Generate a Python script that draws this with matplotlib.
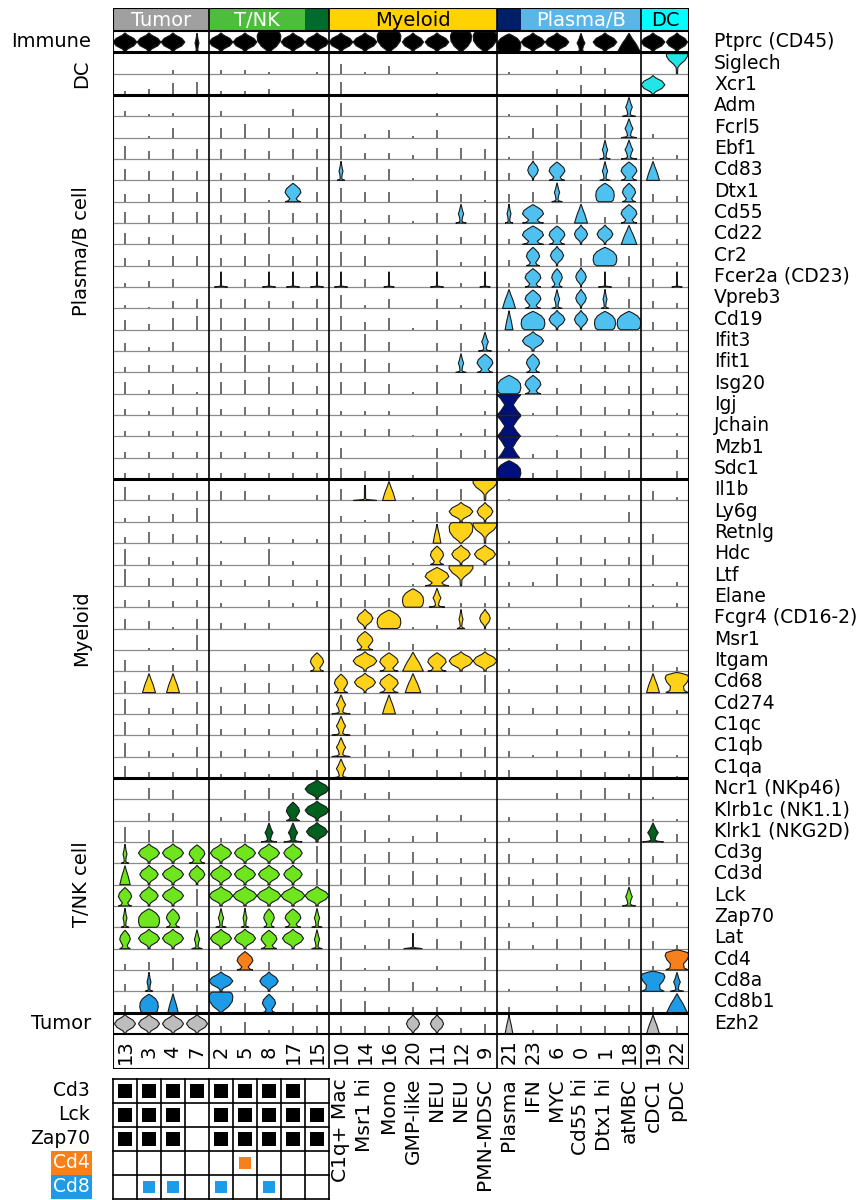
import numpy as np
import matplotlib.pyplot as plt
from matplotlib.patches import Rectangle, Polygon

plt.rcParams['font.family'] = ['DejaVu Sans']

# --- data ---
clusters = ['13', '3', '4', '7', '2', '5', '8', '17', '15', '10', '14', '16',
            '20', '11', '12', '9', '21', '23', '6', '0', '1', '18', '19', '22']
cell_types = [''] * 9 + ['C1q+ Mac', 'Msr1 hi', 'Mono', 'GMP-like', 'NEU', 'NEU',
                         'PMN-MDSC', 'Plasma', 'IFN', 'MYC', 'Cd55 hi', 'Dtx1 hi',
                         'atMBC', 'cDC1', 'pDC']

genes = ['Ptprc (CD45)', 'Siglech', 'Xcr1', 'Adm', 'Fcrl5', 'Ebf1', 'Cd83', 'Dtx1',
         'Cd55', 'Cd22', 'Cr2', 'Fcer2a (CD23)', 'Vpreb3', 'Cd19', 'Ifit3', 'Ifit1',
         'Isg20', 'Igj', 'Jchain', 'Mzb1', 'Sdc1', 'Il1b', 'Ly6g', 'Retnlg', 'Hdc',
         'Ltf', 'Elane', 'Fcgr4 (CD16-2)', 'Msr1', 'Itgam', 'Cd68', 'Cd274', 'C1qc',
         'C1qb', 'C1qa', 'Ncr1 (NKp46)', 'Klrb1c (NK1.1)', 'Klrk1 (NKG2D)', 'Cd3g',
         'Cd3d', 'Lck', 'Zap70', 'Lat', 'Cd4', 'Cd8a', 'Cd8b1', 'Ezh2']

# colour of each gene row
gene_colors = (['black'] + ['#22E5E5'] * 2 + ['#4FC1F0'] * 14 + ['#00107A'] * 4
               + ['#FFD21A'] * 14 + ['#00601E'] * 3 + ['#6EE51C'] * 5
               + ['#F7801A'] + ['#1E9BE6'] * 2 + ['#BDBDBD'])

# per cell: '-' nothing, digit = tick height (tenths), letter+digit = violin shape + width
cells = [
    "D9 D9 D9 S3 | D9 D9 U9 D9 D9 | D9 D9 U9 D8 D9 U8 U9 | R9 D9 D9 S6 D9 A9 | D9 D8",
    "- - 2 - | 2 2 1 - 1 | 5 1 4 - 1 - - | 1 - 2 4 3 - | - T8",
    "2 3 6 7 | 2 2 3 - - | 7 - - - 1 - - | - - 3 5 3 - | D9 -",
    "3 1 2 - | 3 - - 4 - | 7 - - - 2 - - | 1 - 6 7 6 S5 | - -",
    "- 1 5 - | 5 7 5 5 5 | 7 2 4 1 4 - - | 1 5 7 9 7 S6 | 2 -",
    "7 4 5 5 | 5 5 4 5 5 | 7 3 3 2 6 6 5 | 1 4 9 9 S4 S6 | 1 2",
    "6 5 5 5 | 4 4 4 3 7 | S3 3 6 1 3 3 5 | 4 D4 P6 3 S4 P6 | A5 3",
    "4 4 7 5 | 7 7 1 P6 5 | 7 5 5 - 6 4 1 | 4 5 S4 9 R7 P5 | 4 3",
    "6 4 6 6 | 4 5 7 5 5 | 7 2 4 1 5 S4 5 | S3 P8 4 A5 3 P6 | 4 4",
    "6 4 5 - | 5 6 9 4 5 | 7 5 4 - 5 4 5 | 3 P8 P6 D5 D6 A6 | 4 3",
    "4 3 5 5 | 4 5 6 5 5 | 7 5 - - 8 2 5 | 3 P5 D5 4 R9 5 | 4 2",
    "2 3 4 - | L5 4 L5 L5 L5 | L5 4 L4 - L5 2 L4 | 2 P6 P4 D4 L5 5 | 4 L4",
    "2 1 4 5 | 5 5 4 4 5 | 7 2 5 - 5 2 5 | A5 P6 S4 D4 S3 5 | 4 3",
    "5 3 6 7 | 6 6 6 6 6 | 7 4 6 1 5 3 4 | A3 R9 D6 D5 R8 R9 | 4 4",
    "4 2 5 - | 7 8 5 6 6 | 5 9 5 - 4 4 S5 | 1 D8 5 5 5 5 | 2 5",
    "3 4 4 3 | 5 9 4 4 5 | 5 7 5 - 4 S4 P6 | - P5 4 4 4 4 | 3 4",
    "6 2 5 1 | 6 7 9 6 4 | 6 6 5 1 6 5 2 | R9 P6 3 5 4 4 | 3 4",
    "3 2 4 4 | 3 4 4 3 3 | 2 2 2 - 5 - 2 | H9 1 5 5 4 3 | 2 1",
    "3 3 3 3 | 3 3 3 3 3 | 3 4 4 1 4 2 4 | H9 - 1 4 3 2 | 2 2",
    "3 3 3 3 | 3 3 3 3 3 | 5 - - - 5 4 4 | H8 2 4 5 6 5 | - 4",
    "3 3 3 3 | 3 3 3 3 3 | 6 4 4 2 9 - - | R9 3 5 7 4 5 | - 4",
    "7 3 4 5 | 5 5 3 - 3 | 6 L9 A5 2 6 6 T9 | 1 - 3 4 3 3 | 5 2",
    "2 3 4 7 | - - - - - | 3 1 4 1 5 D9 D6 | - - - - - 5 | - -",
    "3 6 5 4 | 1 3 3 2 2 | 5 4 6 1 A3 U9 T9 | 1 - 3 4 3 3 | 5 -",
    "8 4 2 4 | 2 - 8 2 - | 5 4 5 1 P5 D7 D8 | 2 - 4 4 3 4 | 5 -",
    "9 4 4 4 | 3 3 5 3 3 | 6 6 6 1 P9 T9 5 | 2 2 6 4 4 4 | 1 2",
    "4 4 3 4 | 2 - 4 2 3 | 5 4 5 R8 S6 2 2 | 2 - - 5 - 1 | 1 2",
    "5 4 1 5 | 3 3 3 - - | 5 D6 R9 1 2 S3 D4 | 1 - 3 4 3 4 | 4 -",
    "- 1 1 8 | - - - - - | 8 P6 4 3 - - 1 | 1 - 3 5 2 2 | - -",
    "6 3 3 6 | - 4 4 4 P5 | 4 D9 P7 A8 P7 D9 D9 | 1 - 4 4 4 4 | 4 2",
    "6 A5 A5 6 | 3 5 5 4 4 | P5 D8 P7 A6 4 4 9 | 2 - 4 4 4 4 | A5 M9",
    "8 3 3 6 | 4 5 5 4 4 | S7 6 A5 2 3 2 4 | 4 3 4 4 4 4 | 4 2",
    "7 4 3 6 | 3 4 3 3 4 | S7 6 - 3 2 3 4 | 4 - 3 4 3 2 | 4 -",
    "7 3 2 5 | 3 4 3 3 4 | S7 6 3 4 4 4 5 | 3 1 3 4 3 3 | 5 1",
    "6 3 3 5 | 2 3 2 3 4 | S7 7 4 - 4 3 4 | 4 - 4 4 3 2 | 6 1",
    "- 6 5 - | - 5 6 3 D9 | 5 3 4 - - - - | - - 3 5 6 3 | 1 -",
    "- 4 4 - | 2 4 5 P5 D9 | 5 - 3 - 3 3 - | 2 - 4 4 4 - | 1 1",
    "8 6 6 - | 2 4 S6 S7 D8 | 9 6 2 3 5 - 2 | 2 - 6 4 3 2 | S8 4",
    "S3 D8 D8 P6 | D8 D8 D8 D7 9 | 9 5 6 6 3 3 5 | 5 3 5 4 3 3 | 4 5",
    "A4 D7 D8 D6 | D8 D8 D8 D7 8 | 8 9 5 7 5 4 6 | 4 3 6 4 5 4 | 5 3",
    "P5 D7 D8 9 | D9 D9 D9 D9 D9 | 6 3 4 4 5 4 5 | 3 5 6 8 4 S5 | 4 2",
    "S3 R8 P5 8 | S4 S3 P4 P6 S4 | 6 4 5 4 5 4 6 | 2 3 6 7 5 5 | 5 -",
    "P4 D8 D8 S4 | D8 D8 P6 D8 S4 | 6 2 5 L7 5 4 6 | 4 2 5 6 5 5 | 4 2",
    "3 4 6 4 | 2 P6 4 3 3 | 7 1 2 - 2 - 7 | - - 3 5 4 - | 2 M9",
    "4 S3 4 4 | D9 3 D7 3 3 | 6 2 7 5 2 3 6 | 1 - 3 5 4 3 | M9 S5",
    "4 R7 A4 4 | U9 5 P5 5 4 | 7 6 3 3 3 3 3 | 3 - 4 4 4 4 | 3 A8",
    "D8 D8 D8 D8 | 4 6 2 4 4 | 4 4 4 D5 D5 3 5 | A3 2 5 4 4 4 | A5 4",
]

# header blocks: label, first col, last col, colour, text colour
header = [('Tumor', 0, 4, '#A0A0A0', 'white'),
          ('T/NK', 4, 8, '#4DBE3C', 'white'),
          ('', 8, 9, '#006B2C', 'white'),
          ('Myeloid', 9, 16, '#FFD300', 'black'),
          ('', 16, 17, '#001F66', 'white'),
          ('Plasma/B', 17, 22, '#5BB6E6', 'white'),
          ('DC', 22, 24, '#00FFFF', 'black')]
col_groups = [4, 9, 16, 22]

# left-hand row groups: label, first row, last row, label centre row, rotated
row_groups = [('Immune', 0, 1, 0.5, False), ('DC', 1, 3, 2.0, True),
              ('Plasma/B cell', 3, 21, 10.3, True), ('Myeloid', 21, 35, 28.0, True),
              ('T/NK cell', 35, 46, 40.0, True), ('Tumor', 46, 47, 46.5, False)]

# marker table for the first nine clusters
table_rows = ['Cd3', 'Lck', 'Zap70', 'Cd4', 'Cd8']
table_marks = [[1, 1, 1, 1, 1, 1, 1, 1, 0],
               [1, 1, 1, 0, 1, 1, 1, 1, 1],
               [1, 1, 1, 0, 1, 1, 1, 1, 1],
               [0, 0, 0, 0, 0, 1, 0, 0, 0],
               [0, 1, 1, 0, 1, 0, 1, 0, 0]]
table_colors = ['black', 'black', 'black', '#F7801A', '#1E9BE6']

# violin outlines: (height fraction, half-width fraction)
shapes = {
    'D': [(0.0, 0.12), (0.06, 0.06), (0.16, 0.22), (0.32, 0.75), (0.5, 1.0), (0.68, 0.75), (0.84, 0.22), (0.95, 0.0)],
    'P': [(0.0, 1.0), (0.05, 0.6), (0.15, 0.4), (0.28, 0.7), (0.45, 1.0), (0.62, 0.85), (0.78, 0.4), (0.9, 0.0)],
    'S': [(0.0, 1.0), (0.04, 0.4), (0.1, 0.18), (0.3, 0.3), (0.45, 0.5), (0.6, 0.3), (0.8, 0.12), (0.93, 0.0)],
    'A': [(0.0, 1.0), (0.08, 0.9), (0.25, 0.75), (0.45, 0.55), (0.65, 0.3), (0.82, 0.12), (0.93, 0.0)],
    'R': [(0.0, 0.7), (0.08, 0.9), (0.28, 1.0), (0.5, 0.95), (0.68, 0.7), (0.82, 0.3), (0.9, 0.0)],
    'T': [(0.0, 0.05), (0.3, 0.08), (0.45, 0.3), (0.65, 0.75), (0.85, 1.0), (0.98, 1.0)],
    'H': [(0.0, 1.0), (0.2, 0.7), (0.5, 0.35), (0.8, 0.7), (1.0, 1.0)],
    'M': [(0.0, 0.95), (0.1, 0.6), (0.3, 0.55), (0.5, 0.85), (0.7, 1.0), (0.85, 0.9), (0.95, 0.3), (0.98, 0.0)],
    'L': [(0.0, 1.0), (0.05, 0.1), (0.1, 0.05), (0.7, 0.04), (0.75, 0.0)],
    'U': [(0.0, 0.05), (0.12, 0.25), (0.3, 0.65), (0.55, 0.95), (0.8, 1.0), (0.95, 0.9), (1.0, 0.75)],
}

W, H = 865, 1200
FS = 13.5


def box(l, t, r, b):
    return [l / W, 1 - b / H, (r - l) / W, (b - t) / H]


fig = plt.figure(figsize=(W / 100, H / 100), dpi=100)

# --- stacked violins ---
ax = fig.add_axes(box(113, 31, 689, 1034))
n_rows, n_cols = len(genes), len(clusters)
ax.set_xlim(0, n_cols)
ax.set_ylim(n_rows, 0)
ax.axis('off')

breaks = [g[2] for g in row_groups[:-1]]
for y in range(1, n_rows):
    if y in breaks:
        ax.axhline(y, color='black', lw=2.2, zorder=6)
    else:
        ax.axhline(y, color='#8a8a8a', lw=0.9, zorder=1)
for x in col_groups:
    ax.axvline(x, color='black', lw=1.2, zorder=6)
ax.add_patch(Rectangle((0, 0), n_cols, n_rows, fill=False, ec='black', lw=1.5, zorder=7))

for r, row in enumerate(cells):
    toks = row.replace('|', ' ').split()
    base = r + 1
    for c, tok in enumerate(toks):
        if tok == '-':
            continue
        x0 = c + 0.5
        if tok.isdigit():
            ax.plot([x0, x0], [base, base - int(tok) / 10 * 0.9], color='#555555',
                    lw=1.2, solid_capstyle='butt', zorder=3)
        else:
            prof = np.array(shapes[tok[0]])
            hw = int(tok[1]) / 10 * 0.55
            ys = base - prof[:, 0] * 0.96
            xs = prof[:, 1] * hw
            pts = np.r_[np.c_[x0 + xs, ys], np.c_[x0 - xs[::-1], ys[::-1]]]
            ax.add_patch(Polygon(pts, closed=True, fc=gene_colors[r], ec='#1a1a1a',
                                 lw=0.8, zorder=4))

for r, g in enumerate(genes):
    ax.text(n_cols + 1.05, r + 0.5, g, ha='left', va='center', fontsize=FS, clip_on=False)

for label, r0, r1, rc, rot in row_groups:
    if rot:
        ax.text(-1.3, rc, label, rotation=90, ha='center', va='center',
                fontsize=FS + 0.5, clip_on=False)
    else:
        ax.text(-0.9, rc, label, ha='right', va='center',
                fontsize=FS + 0.5, clip_on=False)

# --- header ---
axh = fig.add_axes(box(113, 8, 689, 31))
axh.set_xlim(0, n_cols)
axh.set_ylim(0, 1)
axh.axis('off')
for label, c0, c1, col, tcol in header:
    axh.add_patch(Rectangle((c0, 0), c1 - c0, 1, fc=col, ec='none'))
    if label:
        axh.text((c0 + c1) / 2, 0.45, label, ha='center', va='center', color=tcol, fontsize=14)
for x in col_groups:
    axh.axvline(x, color='black', lw=1.2)
axh.add_patch(Rectangle((0, 0), n_cols, 1, fill=False, ec='black', lw=1.5))

# --- cluster numbers ---
axn = fig.add_axes(box(113, 1034, 689, 1069))
axn.set_xlim(0, n_cols)
axn.set_ylim(1, 0)
axn.axis('off')
axn.add_patch(Rectangle((0, 0), n_cols, 1, fill=False, ec='black', lw=1.5))
for x in col_groups:
    axn.axvline(x, color='black', lw=1.2)
for c, (cl, ct) in enumerate(zip(clusters, cell_types)):
    axn.text(c + 0.5, 0.5, cl, rotation=90, ha='center', va='center', fontsize=14)
    if ct:
        axn.text(c + 0.5, 1.26, ct, rotation=90, ha='center', va='top', fontsize=14.5,
                 clip_on=False)

# --- marker table ---
axt = fig.add_axes(box(113, 1079, 329, 1199))
nt = len(table_marks[0])
axt.set_xlim(0, nt)
axt.set_ylim(len(table_rows), 0)
axt.axis('off')
for i in range(len(table_rows) + 1):
    axt.plot([0, nt], [i, i], color='black', lw=1.2, clip_on=False)
for j in range(nt + 1):
    axt.plot([j, j], [0, len(table_rows)], color='black', lw=1.2, clip_on=False)
for i, (lab, marks, col) in enumerate(zip(table_rows, table_marks, table_colors)):
    s = 0.55 if col == 'black' else 0.5
    for j, m in enumerate(marks):
        if m:
            axt.add_patch(Rectangle((j + 0.5 - s / 2, i + 0.5 - s / 2), s, s, fc=col, ec='none'))
    if col == 'black':
        axt.text(-0.95, i + 0.5, lab, ha='right', va='center', fontsize=FS, clip_on=False)
    else:
        axt.text(-0.95, i + 0.5, lab, ha='right', va='center', fontsize=FS, color='white',
                 clip_on=False, bbox=dict(boxstyle='square,pad=0.12', fc=col, ec='none'))

fig.savefig('out.png', dpi=100)
